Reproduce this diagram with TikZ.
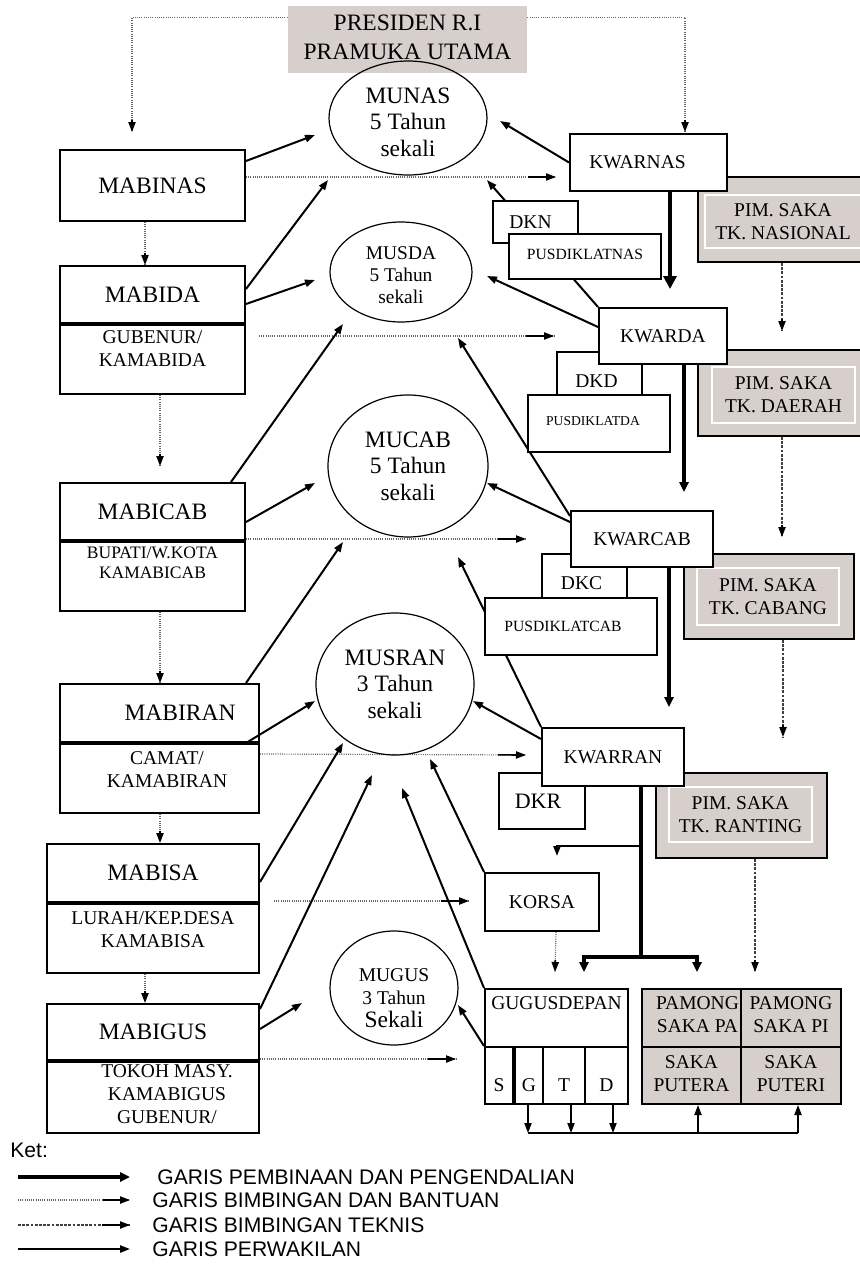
\documentclass[tikz,border=0pt]{standalone}
\usepackage{fontspec}
\setmainfont{Liberation Serif}
\newfontfamily\ketfont{Liberation Sans}
\usepackage{tikz}
\usetikzlibrary{arrows.meta,shapes.geometric,fit,positioning,decorations.markings}

\definecolor{sakagray}{RGB}{214,207,203}
\pgfdeclarelayer{bg}
\pgfsetlayers{bg,main}

\newcommand{\fbesar}{\fontsize{11.75pt}{13.25pt}\selectfont}
\newcommand{\fsedang}{\fontsize{9.75pt}{11.5pt}\selectfont}
\newcommand{\fkecil}{\fontsize{7.8pt}{9pt}\selectfont}
\newcommand{\fmini}{\fontsize{6.8pt}{8pt}\selectfont}
\newcommand{\fket}{\fontsize{10.55pt}{12pt}\selectfont}

\begin{document}
\begin{tikzpicture}[x=0.5pt, y=-0.5pt, >={Triangle[length=5pt,width=3.6pt]},
	kotak/.style={draw, line width=1pt, inner sep=0pt},
	kotakputih/.style={kotak, fill=white},
	judul/.style={inner sep=0pt, font=\fbesar, align=center},
	teks/.style={inner sep=0pt, font=\fsedang, align=center},
	isi/.style={label={[teks]center:{#1}}},
	isibesar/.style={label={[judul]center:{#1}}},
	musy/.style={draw, ellipse, line width=0.6pt, inner sep=0pt, align=center, font=\fbesar},
	saka/.style={draw, line width=1pt, fill=sakagray, inner sep=0pt},
	sakadalam/.style={draw=white, line width=0.8pt, inner sep=0pt},
	ketteks/.style={anchor=west, inner sep=0pt, font=\ketfont\fket},
	wakil/.style={->, line width=1pt},
	garis/.style={->, line width=0.7pt},
	bina/.style={line width=1.7pt, -{Triangle[length=5pt,width=4.6pt]}},
	bimbing/.style={draw=black!60, line width=0.6pt, dash pattern=on 0.5pt off 0.6pt,
		postaction={decorate}, decoration={markings, mark=at position 1 with
		{\draw[solid, black, line width=0.8pt, ->] (-#1,0) -- (0pt,0);}}},
	bimbing/.default=6pt,
	teknis/.style={bimbing=#1, dash pattern=on 1.4pt off 0.7pt, draw=black!75},
	teknis/.default=6pt]
	\useasboundingbox (0,0) rectangle (859,1274);

	% Nodes {presiden, mabinas, mabida, ...}
	\node [fill=sakagray, inner sep=0pt, fit={(288,6) (527,73)},
		label={[judul, font=\fontsize{11.75pt}{14.5pt}\selectfont, yshift=1pt]center:PRESIDEN R.I\\PRAMUKA UTAMA}] (presiden) {};

	\node [kotak, fit={(60,150) (245,221)}, isibesar=MABINAS]	(mabinas) 	{};
	\node [kotak, fit={(60,266) (245,323)}, isibesar=MABIDA]	(mabida) 	{};
	\node [kotak, fit={(60,323) (245,394)}]					(kamabida) 	{};
	\node [teks, below=4.3pt of kamabida.north]				(kamabidaT)	{GUBENUR/\\KAMABIDA};
	\node [kotak, fit={(60,483) (245,540)}, isibesar=MABICAB]	(mabicab) 	{};
	\node [kotak, fit={(60,540) (245,611)}]					(kamabicab) {};
	\node [teks, font=\fontsize{8.75pt}{10pt}\selectfont, below=4pt of kamabicab.north] (kamabicabT) {BUPATI/W.KOTA\\KAMABICAB};
	\node [kotak, fit={(60,684) (259,742)}, label={[judul, xshift=10.25pt]center:MABIRAN}] (mabiran) {};
	\node [kotak, fit={(60,742) (259,813)}]					(kamabiran) {};
	\node [teks, below=5pt of kamabiran.north, xshift=3.75pt] (kamabiranT) {CAMAT/\\KAMABIRAN};
	\node [kotak, fit={(47,844) (259,902)}, isibesar=MABISA]	(mabisa) 	{};
	\node [kotak, fit={(47,902) (259,973)}]					(kamabisa) 	{};
	\node [teks, below=5pt of kamabisa.north]				(kamabisaT)	{LURAH/KEP.DESA\\KAMABISA};
	\node [kotak, fit={(47,1004) (259,1060)}, isibesar=MABIGUS]	(mabigus) 	{};
	\node [kotak, fit={(47,1060) (259,1133)}]				(kamabigus) {};
	\node [teks, below=2.5pt of kamabigus.north, xshift=7pt] (kamabigusT) {TOKOH MASY.\\KAMABIGUS\\GUBENUR/};
	\foreach \n in {mabida,mabicab,mabiran,mabisa,mabigus}
		\draw [line width=1.6pt] (\n.south west) -- (\n.south east);

	% Musyawarah
	\node [musy, minimum width=79pt, minimum height=57pt, label={[judul, yshift=-2pt]center:MUNAS\\5 Tahun\\sekali}] (munas) at (408,118) {};
	\node [musy, minimum width=71pt, minimum height=50pt, label={[teks, font=\fontsize{9.7pt}{11pt}\selectfont, yshift=-1.5pt]center:MUSDA\\5 Tahun\\sekali}] (musda) at (401,272) {};
	\node [musy, minimum width=80pt, minimum height=71pt] (mucab) at (408,466) {MUCAB\\5 Tahun\\sekali};
	\node [musy, minimum width=79pt, minimum height=71pt] (musran) at (395,684) {MUSRAN\\3 Tahun\\sekali};
	\node [musy, minimum width=64pt, minimum height=57pt, label={[teks, yshift=-5pt]center:MUGUS\\3 Tahun\\{\fbesar Sekali}}] (mugus) at (394,988) {};

	% Kwartir
	\node [saka, fit={(698,177) (866,262)}]			(pimnas) 	{};
	\node [sakadalam, fit={(705,195) (861,248)}, isi={PIM. SAKA\\TK. NASIONAL}] (pimnasT) {};
	\node [kotakputih, fit={(570,134) (727,191)}, label={[teks, xshift=-5.5pt]center:KWARNAS}] (kwarnas) {};
	\node [kotakputih, fit={(493,201) (578,243)}, label={[teks, xshift=-2.5pt]center:DKN}] (dkn) {};
	\node [kotakputih, fit={(509,234) (661,279)}, label={[teks, font=\fkecil, yshift=1pt]center:PUSDIKLATNAS}] (pusnas) {};

	\node [saka, fit={(698,350) (866,436)}]			(pimda) 	{};
	\node [sakadalam, fit={(712,367) (855,423)}, isi={PIM. SAKA\\TK. DAERAH}] (pimdaT) {};
	\node [kotakputih, fit={(557,352) (642,410)}, label={[teks, xshift=-1.5pt]center:DKD}] (dkd) {};
	\node [kotakputih, fit={(528,395) (670,452)}, label={[teks, font=\fmini, xshift=-3pt, yshift=1pt]center:PUSDIKLATDA}] (pusda) {};
	\node [kotakputih, fit={(599,308) (727,364)}, isi=KWARDA]	(kwarda) 	{};

	\node [saka, fit={(684,554) (854,639)}]			(pimcab) 	{};
	\node [sakadalam, fit={(697,568) (839,625)}, isi={PIM. SAKA\\TK. CABANG}] (pimcabT) {};
	\node [kotakputih, fit={(542,554) (627,612)}, label={[teks, xshift=-1.5pt]center:DKC}] (dkc) {};
	\node [kotakputih, fit={(485,598) (657,655)}, label={[teks, font=\fkecil, xshift=-4pt]center:PUSDIKLATCAB}] (puscab) {};
	\node [kotakputih, fit={(571,511) (713,567)}, isi=KWARCAB]	(kwarcab) 	{};

	\node [saka, fit={(656,773) (827,858)}]			(pimran) 	{};
	\node [sakadalam, fit={(669,787) (812,842)}, isi={PIM. SAKA\\TK. RANTING}] (pimranT) {};
	\node [kotakputih, fit={(499,773) (585,829)}, label={[teks, font=\fontsize{11pt}{12pt}\selectfont, xshift=-2pt]center:DKR}] (dkr) {};
	\node [kotakputih, fit={(542,728) (684,786)}, isi=KWARRAN]	(kwarran) 	{};
	\node [kotakputih, fit={(485,873) (599,931)}, isi=KORSA]	(korsa) 	{};

	% Gugusdepan dan saka
	\node [kotak, fit={(485,989) (628,1104)}]		(gugus) 	{};
	\node [teks, below=4pt of gugus.north]			(gugusT) 	{GUGUSDEPAN};
	\foreach \nama/\xa/\xb/\huruf in {cS/485/513/S, cG/515/543/G, cT/543/585/T, cD/585/628/D}
		\node [kotak, fit={(\xa,1047) (\xb,1104)}, label={[teks, yshift=-4.75pt]center:\huruf}] (\nama) {};
	\node [saka, fit={(642,989) (741,1047)}, label={[teks, xshift=3pt, yshift=1.5pt]center:PAMONG\\SAKA PA}] (pamPA) {};
	\node [saka, fit={(741,989) (841,1047)}, label={[teks, yshift=1.5pt]center:PAMONG\\SAKA PI}] (pamPI) {};
	\node [saka, fit={(642,1047) (741,1104)}, label={[teks, yshift=1pt]center:SAKA\\PUTERA}] (pamPutra) {};
	\node [saka, fit={(741,1047) (841,1104)}, label={[teks, yshift=1pt]center:SAKA\\PUTERI}] (pamPutri) {};

	\coordinate (busG) at (528,1133);
	\coordinate (busT) at (571,1133);
	\coordinate (busD) at (613,1133);
	\coordinate (busPA) at (698,1133);
	\coordinate (busPI) at (798,1133);

	\begin{pgfonlayer}{bg}
	% Garis bimbingan dan bantuan
	\draw [bimbing] ([yshift=-6pt]presiden.north west) -| ([shift={(-20.5,-17)}]mabinas.north);
	\draw [bimbing] ([yshift=-6pt]presiden.north east) -| ([shift={(36.5,-1)}]kwarnas.north);
	\draw [bimbing] ([xshift=-3.75pt]mabinas.south) -- ([xshift=-3.75pt]mabida.north);
	\draw [bimbing] ([xshift=3.75pt]kamabida.south) -- ([shift={(7.5,-16)}]mabicab.north);
	\draw [bimbing] ([xshift=3.75pt]kamabicab.south) -- ([xshift=0.25pt]mabiran.north);
	\draw [bimbing] ([xshift=0.25pt]kamabiran.south) -- ([xshift=3.5pt]mabisa.north);
	\draw [bimbing] ([xshift=-4pt]kamabisa.south) -- ([xshift=-4pt]mabigus.north);
	\draw [bimbing=14pt] ([yshift=-14pt]mabinas.north east) -- ([shift={(-13,44)}]kwarnas.north west);
	\draw [bimbing=14pt] ([shift={(13,14)}]kamabida.north east) -- ([shift={(-44,29)}]kwarda.north west);
	\draw [bimbing=14pt] (kamabicab.north east) -- ([shift={(-44,29)}]kwarcab.north west);
	\draw [bimbing=14pt] ([yshift=-6.5pt]kamabiran.north east) -- ([shift={(-15,28)}]kwarran.north west);
	\draw [bimbing=14pt] ([xshift=7pt]kamabisa.north east) -- ([shift={(-15,29)}]korsa.north west);
	\draw [bimbing=14pt] (kamabigus.north east) -- ([shift={(-28,71)}]gugus.north west);
	\draw [bimbing] ([xshift=7pt]korsa.south) -- ([shift={(71,-16)}]gugus.north west);

	% Garis bimbingan teknis
	\draw [teknis] (pimnas.south) -- ([yshift=9pt]pimda.north);
	\draw [teknis] (pimda.south) -- ([shift={(13,-16)}]pimcab.north);
	\draw [teknis] ([xshift=7pt]pimcab.south) -- ([shift={(41.5,-35)}]pimran.north);
	\draw [teknis] ([xshift=6.75pt]pimran.south) -- ([shift={(-36,-16)}]pamPI.north);

	% Garis pembinaan dan pengendalian
	\draw [bina, -{Triangle[length=6.5pt,width=6.5pt]}] ([xshift=10.75pt]kwarnas.south) -- ([shift={(7,-18)}]kwarda.north);
	\draw [bina] ([xshift=10.5pt]kwarda.south) -- ([shift={(42,-18)}]kwarcab.north);
	\draw [bina] ([xshift=13.5pt]kwarcab.south) -- ([shift={(56,-20)}]kwarran.north);
	\coordinate (bagi) at ([shift={(28,170)}]kwarran.south);
	\draw [bina, -] ([xshift=14pt]kwarran.south) -- (bagi);
	\draw [bina] (bagi) -| ([shift={(100,-16)}]gugus.north west);
	\draw [bina] (bagi) -| ([shift={(56,-16)}]pamPA.north west);
	\draw [wakil] ([shift={(28,59)}]kwarran.south) -| ([shift={(15,-16)}]korsa.north);

	% Garis perwakilan
	\draw [wakil] ([yshift=-6pt]mabinas.north east) -- ([shift={(-93,17)}]munas.center);
	\draw [wakil] ([yshift=-12pt]mabida.north east) -- ([shift={(-80,62)}]munas.center);
	\draw [wakil] ([yshift=-19.5pt]mabida.north east) -- ([shift={(-86,8)}]musda.center);
	\draw [wakil] ([xshift=-7.5pt]mabicab.north east) -- ([shift={(-58,52)}]musda.center);
	\draw [wakil] ([yshift=-20pt]mabicab.north east) -- ([shift={(-93,17)}]mucab.center);
	\draw [wakil] ([xshift=-7pt]mabiran.north east) -- ([shift={(-65,76)}]mucab.center);
	\draw [wakil] ([xshift=-7pt]mabiran.south east) -- ([shift={(-80,17)}]musran.center);
	\draw [wakil] ([yshift=-19.5pt]mabisa.north east) -- ([shift={(-52,59)}]musran.center);
	\draw [wakil] ([yshift=-3pt]mabigus.north east) -- ([shift={(-23,91)}]musran.center);
	\draw [wakil] ([yshift=-13pt]mabigus.north east) -- ([shift={(-92,15)}]mugus.center);
	\draw [wakil] (kwarnas.west) -- ([shift={(92,3)}]munas.center);
	\draw [wakil] (kwarda.north west) -- ([shift={(79,62)}]munas.center);
	\draw [wakil] ([yshift=-10pt]kwarda.north west) -- ([shift={(86,4)}]musda.center);
	\draw [wakil] ([yshift=-3pt]kwarcab.north west) -- ([shift={(57,66)}]musda.center);
	\draw [wakil] ([yshift=-6pt]kwarcab.north west) -- ([shift={(79,17)}]mucab.center);
	\draw [wakil] (kwarran.north west) -- ([shift={(50,91)}]mucab.center);
	\draw [wakil] ([yshift=-6pt]kwarran.north west) -- ([shift={(78,17)}]musran.center);
	\draw [wakil] (korsa.north west) -- ([shift={(35,75)}]musran.center);
	\draw [wakil] (gugus.north west) -- ([shift={(7,104)}]musran.center);
	\draw [wakil] (cS.north west) -- ([shift={(64,17)}]mugus.center);

	% Satuan dan saka
	\foreach \sel/\bus in {cG/busG, cT/busT, cD/busD}
		\draw [garis] (\sel.south -| \bus) -- (\bus);
	\draw [line width=0.7pt] (busG) -- (busPI);
	\draw [garis] (busPA) -- (pamPutra.south -| busPA);
	\draw [garis] (busPI) -- (pamPutri.south -| busPI);
	\end{pgfonlayer}

	% Keterangan
	\node [ketteks] (ket) at (10,1150) {Ket:};
	\foreach \i/\y in {1/1177, 2/1200, 3/1225, 4/1249} {
		\coordinate (ka\i) at (18,\y);
		\coordinate (kb\i) at (130,\y);
	}
	\draw [bina] (ka1) -- (kb1);
	\draw [bimbing=13.5pt] (ka2) -- (kb2);
	\draw [teknis=14pt] (ka3) -- (kb3);
	\draw [wakil] (ka4) -- (kb4);
	\node [ketteks] (ket1) at (157,1177) {GARIS PEMBINAAN DAN PENGENDALIAN};
	\node [ketteks] (ket2) at (152,1200) {GARIS BIMBINGAN DAN BANTUAN};
	\node [ketteks] (ket3) at (152,1225) {GARIS BIMBINGAN TEKNIS};
	\node [ketteks] (ket4) at (152,1249) {GARIS PERWAKILAN};

\end{tikzpicture}
\end{document}
